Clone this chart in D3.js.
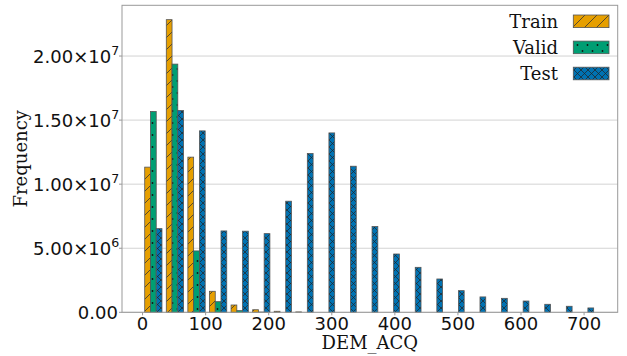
<!DOCTYPE html>
<html><head><meta charset="utf-8">
<script src="https://cdn.jsdelivr.net/npm/d3@7/dist/d3.min.js"></script>
<style>body{margin:0;background:#fff} svg{display:block}</style>
</head><body><svg id="c" width="627" height="356"></svg>
<script>
// ---- data ----
const binEdges = [0, 34.2, 68.4, 102.7, 136.9, 171.1, 205.3, 239.5, 273.8, 308.0, 342.2, 376.4, 410.6, 444.9, 479.1, 513.3, 547.5, 581.7, 616.0, 650.2, 684.4, 718.6];
const seriesNames = ["Train", "Valid", "Test"];
const trainValues = [11.33e6, 22.84e6, 12.11e6, 1.64e6, 0.57e6, 0.20e6, 0.08e6, 0.03e6, 0, 0, 0, 0, 0, 0, 0, 0, 0, 0, 0, 0, 0];
const validValues = [15.67e6, 19.37e6, 4.79e6, 0.83e6, 0.13e6, 0.02e6, 0, 0, 0, 0, 0, 0, 0, 0, 0, 0, 0, 0, 0, 0, 0];
const testValues  = [6.53e6, 15.75e6, 14.16e6, 6.35e6, 6.33e6, 6.14e6, 8.67e6, 12.39e6, 14.00e6, 11.40e6, 6.69e6, 4.55e6, 3.51e6, 2.60e6, 1.69e6, 1.20e6, 1.09e6, 0.88e6, 0.625e6, 0.47e6, 0.34e6];
const xTicks = [0, 100, 200, 300, 400, 500, 600, 700];
const yTicks = [0, 5e6, 1e7, 1.5e7, 2e7];
const yTickMantissa = ["0.00", "5.00\u00d710", "1.00\u00d710", "1.50\u00d710", "2.00\u00d710"];
const yTickExponent = ["", "6", "7", "7", "7"];
const xLabel = "DEM_ACQ";
const yLabel = "Frequency";

// ---- style ----
const colors = ["#E69F00", "#009E73", "#0072B2"];
const patterns = ["hTrain", "hValid", "hTest"];
const L = 122, R = 617.7, T = 5.3, B = 312.3;

const svg = d3.select("#c");
const defs = svg.append("defs");

// hatch patterns
(function(){
  // Train '/'
  let p = defs.append("pattern").attr("id", "hTrain").attr("patternUnits", "userSpaceOnUse")
    .attr("width", 12).attr("height", 12);
  p.append("rect").attr("width", 12).attr("height", 12).attr("fill", colors[0]);
  p.append("path").attr("d", "M0,12 L12,0 M-3,3 L3,-3 M9,15 L15,9")
    .attr("stroke", "#333").attr("stroke-width", 0.8);
  // Valid '.'
  p = defs.append("pattern").attr("id", "hValid").attr("patternUnits", "userSpaceOnUse")
    .attr("width", 10).attr("height", 12);
  p.append("rect").attr("width", 10).attr("height", 12).attr("fill", colors[1]);
  p.append("circle").attr("cx", 2.5).attr("cy", 3).attr("r", 0.9).attr("fill", "#111");
  p.append("circle").attr("cx", 7.5).attr("cy", 9).attr("r", 0.9).attr("fill", "#111");
  // Test 'xx'
  p = defs.append("pattern").attr("id", "hTest").attr("patternUnits", "userSpaceOnUse")
    .attr("width", 7).attr("height", 7);
  p.append("rect").attr("width", 7).attr("height", 7).attr("fill", colors[2]);
  p.append("path").attr("d", "M0,0 L7,7 M0,7 L7,0 M-1,1 L1,-1 M6,8 L8,6 M-1,6 L1,8 M6,-1 L8,1")
    .attr("stroke", "#222").attr("stroke-width", 0.7);
})();

const x = d3.scaleLinear().domain([-32.6, 753.3]).range([L, R]);
const y = d3.scaleLinear().domain([0, 2.396e7]).range([B, T]);

// grid
svg.append("g").selectAll("line").data(yTicks).join("line")
  .attr("x1", L).attr("x2", R).attr("y1", d => y(d)).attr("y2", d => y(d))
  .attr("stroke", "#d3d3d3").attr("stroke-width", 1);

// bars
const allSeries = [trainValues, validValues, testValues];
allSeries.forEach((vals, si) => {
  svg.append("g").selectAll("rect").data(vals).join("rect")
    .attr("x", (d, k) => {
      const w = binEdges[k + 1] - binEdges[k];
      return x(binEdges[k] + 0.1 * w + si * 0.8 * w / 3);
    })
    .attr("width", (d, k) => {
      const w = binEdges[k + 1] - binEdges[k];
      return x(0.8 * w / 3) - x(0);
    })
    .attr("y", d => y(d))
    .attr("height", d => y(0) - y(d))
    .attr("fill", `url(#${patterns[si]})`)
    .attr("stroke", "#555").attr("stroke-width", 0.8);
});

// frame
svg.append("rect").attr("x", L).attr("y", T).attr("width", R - L).attr("height", B - T)
  .attr("fill", "none").attr("stroke", "#999").attr("stroke-width", 1);

// x axis ticks
const gx = svg.append("g");
gx.selectAll("line").data(xTicks).join("line")
  .attr("x1", d => x(d)).attr("x2", d => x(d)).attr("y1", B).attr("y2", B + 3)
  .attr("stroke", "#999").attr("stroke-width", 1);
gx.selectAll("text").data(xTicks).join("text")
  .attr("x", d => x(d)).attr("y", B + 18)
  .attr("text-anchor", "middle")
  .attr("font-family", "DejaVu Sans").attr("font-size", 18).attr("fill", "#111")
  .text(d => d);

// y axis ticks
const gy = svg.append("g");
gy.selectAll("line").data(yTicks).join("line")
  .attr("x1", L - 3).attr("x2", L).attr("y1", d => y(d)).attr("y2", d => y(d))
  .attr("stroke", "#999").attr("stroke-width", 1);
yTicks.forEach((v, i) => {
  gy.append("text")
    .attr("x", yTickExponent[i] ? 111.2 : 117.9).attr("y", y(v) + 7)
    .attr("text-anchor", "end")
    .attr("font-family", "DejaVu Sans").attr("font-size", 18).attr("fill", "#111")
    .text(yTickMantissa[i]);
  if (yTickExponent[i]) {
    gy.append("text").attr("x", 111.2).attr("y", y(v) - 0.8)
      .attr("font-family", "DejaVu Sans").attr("font-size", 12.6).attr("fill", "#111")
      .text(yTickExponent[i]);
  }
});

// axis labels
svg.append("text").attr("x", (L + R) / 2).attr("y", 348.5)
  .attr("text-anchor", "middle").attr("font-family", "DejaVu Serif").attr("font-size", 18)
  .attr("fill", "#111").text(xLabel);
svg.append("text").attr("transform", `translate(26.5,${(T + B) / 2}) rotate(-90)`)
  .attr("text-anchor", "middle").attr("font-family", "DejaVu Serif").attr("font-size", 18)
  .attr("fill", "#111").text(yLabel);

// legend
const lg = svg.append("g");
seriesNames.forEach((name, i) => {
  const cy = 21.3 + i * 26.1;
  lg.append("rect").attr("x", 573.3).attr("y", cy - 6.3).attr("width", 35.7).attr("height", 12.6)
    .attr("fill", `url(#${patterns[i]})`).attr("stroke", "#555").attr("stroke-width", 0.8);
  lg.append("text").attr("x", 558).attr("y", cy + 6.5).attr("text-anchor", "end")
    .attr("font-family", "DejaVu Serif").attr("font-size", 18).attr("fill", "#111").text(name);
});
</script></body></html>
